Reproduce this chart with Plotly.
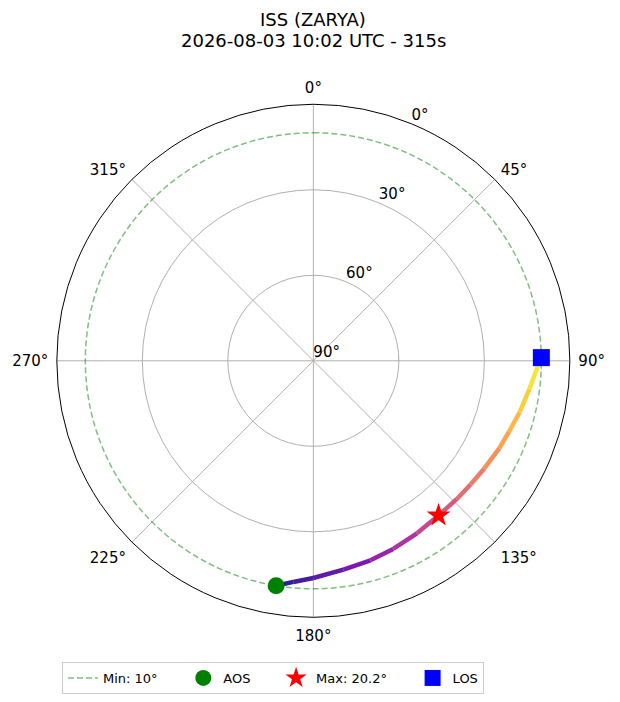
import numpy as np
import plotly.graph_objects as go
from plotly.colors import sample_colorscale

sat_name = "ISS (ZARYA)"
pass_start = "2026-08-03 10:02 UTC"
pass_seconds = 315
min_elevation = 10

# pass track (azimuth deg, elevation deg)
track_az = [189.4, 185.2, 180.0, 171.8, 164.0, 157.0, 149.0, 141.0, 134.0,
            128.1, 122.1, 115.2, 110.0, 104.0, 97.3, 91.5, 89.2]
track_el = [10.0, 12.1, 13.8, 16.0, 17.2, 18.3, 19.4, 20.2, 20.1,
            19.8, 19.1, 17.9, 17.0, 15.4, 13.5, 11.3, 10.0]

max_az = 141.0
max_el = 20.2

az_ticks = [0, 45, 90, 135, 180, 225, 270, 315]
el_ticks = [90, 60, 30, 0]

FONT = "DejaVu Sans"
W, H = 604, 686   # page body has an 8px margin
PAD = "\u00a0" * 5


def zen(el):
    # polar radius = 90 - elevation (zenith in the middle)
    return [90 - e for e in el]


fig = go.Figure()

# gradient track, one segment per pair of points coloured by progress
frac = [(track_az[0] - a) / (track_az[0] - track_az[-1]) for a in track_az]
for i in range(len(track_az) - 1):
    col = sample_colorscale("Plasma", [(frac[i] + frac[i + 1]) / 2])[0]
    fig.add_trace(go.Scatterpolar(
        r=zen(track_el[i:i + 2]), theta=track_az[i:i + 2], mode="lines",
        line=dict(color=col, width=4.5), opacity=0.9,
        showlegend=False, hoverinfo="skip"))

# min elevation ring
ring_theta = np.linspace(0, 360, 361)
fig.add_trace(go.Scatterpolar(
    r=[90 - min_elevation] * len(ring_theta), theta=ring_theta, mode="lines",
    line=dict(color="rgba(0,128,0,0.5)", width=1.5, dash="6px,3px"),
    name=f"Min: {min_elevation}°" + PAD))

fig.add_trace(go.Scatterpolar(
    r=zen([track_el[0]]), theta=[track_az[0]], mode="markers",
    marker=dict(color="green", size=17, symbol="circle"), name="AOS" + PAD))
fig.add_trace(go.Scatterpolar(
    r=zen([max_el]), theta=[max_az], mode="markers",
    marker=dict(color="red", size=18, symbol="star"),
    name=f"Max: {max_el}°" + PAD))
fig.add_trace(go.Scatterpolar(
    r=zen([track_el[-1]]), theta=[track_az[-1]], mode="markers",
    marker=dict(color="blue", size=17, symbol="square"), name="LOS"))

# elevation labels along 22.5 deg like matplotlib
fig.add_trace(go.Scatterpolar(
    r=zen(el_ticks), theta=[22.5] * len(el_ticks), mode="text",
    text=[f"{e}°" for e in el_ticks], textposition="top right",
    textfont=dict(family=FONT, size=15, color="black"),
    showlegend=False, hoverinfo="skip", cliponaxis=False))

fig.update_layout(
    width=W, height=H,
    margin=dict(l=0, r=0, t=0, b=0),
    paper_bgcolor="white",
    font=dict(family=FONT, size=15, color="black"),
    polar=dict(
        domain=dict(x=[47.7 / W, 563.0 / W], y=[1 - 612.0 / H, 1 - 96.7 / H]),
        bgcolor="white",
        angularaxis=dict(
            direction="clockwise", rotation=90,
            tickmode="array", tickvals=az_ticks,
            ticktext=[f"{a}°" for a in az_ticks],
            showline=True, linecolor="black", linewidth=1,
            gridcolor="#b0b0b0", gridwidth=1,
            ticks="outside", ticklen=5, tickcolor="rgba(0,0,0,0)",
            tickfont=dict(family=FONT, size=15, color="black")),
        radialaxis=dict(
            range=[0, 90], tickmode="array", tickvals=[0, 30, 60, 90],
            showticklabels=False, showline=False, ticks="",
            gridcolor="#b0b0b0", gridwidth=1)),
    legend=dict(
        orientation="h", x=54 / W, y=1 - 657 / H,
        xanchor="left", yanchor="top",
        bordercolor="#cccccc", borderwidth=1, bgcolor="white",
        font=dict(family=FONT, size=13, color="black")),
    annotations=[
        dict(text=sat_name, x=305 / W, y=1 - 12 / H, xref="paper", yref="paper",
             showarrow=False, yanchor="middle", font=dict(family=FONT, size=18)),
        dict(text=f"{pass_start} - {pass_seconds}s", x=305 / W, y=1 - 33 / H,
             xref="paper", yref="paper", showarrow=False, yanchor="middle",
             font=dict(family=FONT, size=18)),
    ],
)

fig.write_html("out.html")
